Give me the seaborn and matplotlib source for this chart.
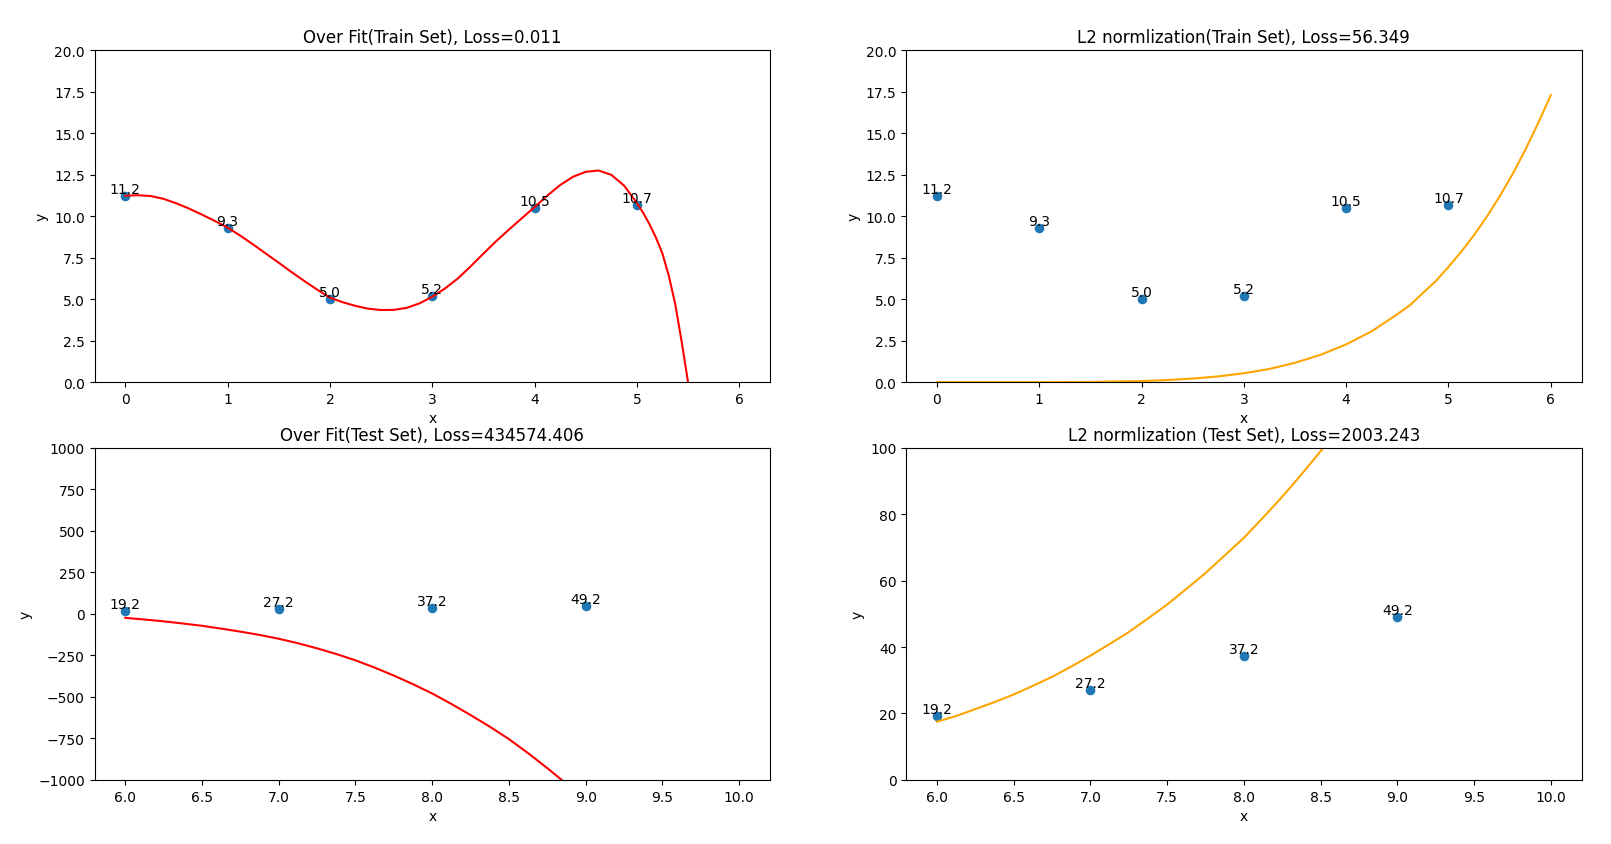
import matplotlib
matplotlib.use("Agg")
import matplotlib.pyplot as plt
import seaborn as sns
import pandas as pd

# ---- data ----
train_x = [0, 1, 2, 3, 4, 5]
train_y = [11.2, 9.3, 5.0, 5.2, 10.5, 10.7]
test_x = [6, 7, 8, 9]
test_y = [19.2, 27.2, 37.2, 49.2]

# over-fit curve on the train range
overfit_train_x = [0, 0.125, 0.25, 0.375, 0.5, 0.625, 0.75, 0.875, 1, 1.125, 1.25, 1.375,
                   1.5, 1.625, 1.75, 1.875, 2, 2.125, 2.25, 2.375, 2.5, 2.625, 2.75, 2.875,
                   3, 3.125, 3.25, 3.375, 3.5, 3.625, 3.75, 3.875, 4, 4.125, 4.25, 4.375,
                   4.5, 4.625, 4.75, 4.875, 5, 5.0625, 5.125, 5.1875, 5.25, 5.3125, 5.375,
                   5.4375, 5.5, 5.75, 6]
overfit_train_y = [11.24, 11.27, 11.22, 11.05, 10.78, 10.46, 10.1, 9.72, 9.32, 8.83, 8.3, 7.75,
                   7.2, 6.64, 6.1, 5.58, 5.1, 4.82, 4.6, 4.43, 4.35, 4.36, 4.48, 4.75,
                   5.15, 5.65, 6.25, 6.98, 7.75, 8.5, 9.2, 9.88, 10.55, 11.25, 11.88, 12.38,
                   12.68, 12.76, 12.5, 11.85, 10.8, 10.2, 9.5, 8.7, 7.75, 6.4, 4.7,
                   2.45, 0.0, -10, -26]

# L2 curve on the train range
l2_train_x = [0, 0.5, 1, 1.5, 2, 2.25, 2.5, 2.75, 3, 3.25, 3.5, 3.75, 4, 4.25, 4.5, 4.625,
              4.75, 4.875, 5, 5.125, 5.25, 5.375, 5.5, 5.625, 5.75, 5.875, 6]
l2_train_y = [0.0, 0.0, 0.0, 0.02, 0.07, 0.13, 0.22, 0.35, 0.54, 0.8, 1.17, 1.65, 2.28, 3.07,
              4.1, 4.65, 5.38, 6.09, 6.95, 7.87, 8.87, 9.98, 11.2, 12.53, 14.0, 15.6, 17.3]

# over-fit curve on the test range
overfit_test_x = [6, 6.125, 6.25, 6.375, 6.5, 6.625, 6.75, 6.875, 7, 7.125, 7.25, 7.375,
                  7.5, 7.625, 7.75, 7.875, 8, 8.125, 8.25, 8.375, 8.5, 8.625, 8.75, 8.875, 9.0]
overfit_test_y = [-24, -34, -45, -58, -72, -89, -107, -127, -150, -177, -208, -242,
                  -280, -324, -372, -424, -480, -543, -610, -680, -755, -840, -930, -1025, -1130]

# L2 curve on the test range
l2_test_x = [6, 6.125, 6.25, 6.375, 6.5, 6.625, 6.75, 6.875, 7, 7.125, 7.25, 7.375, 7.5,
             7.625, 7.75, 7.875, 8, 8.125, 8.25, 8.375, 8.5, 8.625, 8.75, 9.0]
l2_test_y = [17.5, 19.2, 21.3, 23.4, 25.7, 28.3, 31.0, 34.1, 37.4, 40.9, 44.5, 48.6, 52.8,
             57.5, 62.3, 67.6, 72.9, 79.0, 85.3, 92.0, 99.0, 106.5, 114.0, 131.0]

titles = ["Over Fit(Train Set), Loss=0.011",
          "L2 normlization(Train Set), Loss=56.349",
          "Over Fit(Test Set), Loss=434574.406",
          "L2 normlization (Test Set), Loss=2003.243"]

fig = plt.figure(figsize=(16.11, 8.45), dpi=100)
w = 0.4192
h = 0.3927
positions = [[0.0587, 0.5465, w, h], [0.5625, 0.5465, w, h],
             [0.0587, 0.0760, w, h], [0.5625, 0.0760, w, h]]
axes = [fig.add_axes(p) for p in positions]

panels = [
    (train_x, train_y, overfit_train_x, overfit_train_y, "red", (-0.3, 6.3), (0, 20)),
    (train_x, train_y, l2_train_x, l2_train_y, "orange", (-0.3, 6.3), (0, 20)),
    (test_x, test_y, overfit_test_x, overfit_test_y, "red", (5.8, 10.2), (-1000, 1000)),
    (test_x, test_y, l2_test_x, l2_test_y, "orange", (5.8, 10.2), (0, 100)),
]

for ax, (px, py, lx, ly, col, xl, yl), title in zip(axes, panels, titles):
    pts = pd.DataFrame({"x": px, "y": py})
    line = pd.DataFrame({"x": lx, "y": ly})
    sns.scatterplot(data=pts, x="x", y="y", ax=ax, color="#1f77b4", s=48,
                    linewidth=0, zorder=2)
    sns.lineplot(data=line, x="x", y="y", ax=ax, color=col, linewidth=1.5,
                 sort=False, estimator=None, zorder=2.5)
    for xv, yv in zip(px, py):
        ax.text(xv, yv, "%.1f" % yv, ha="center", va="bottom", fontsize=10, zorder=3)
    ax.set_xlim(*xl)
    ax.set_ylim(*yl)
    ax.set_xlabel("x")
    ax.set_ylabel("y")
    ax.set_title(title, fontsize=12)

fig.savefig("out.png", dpi=100)
